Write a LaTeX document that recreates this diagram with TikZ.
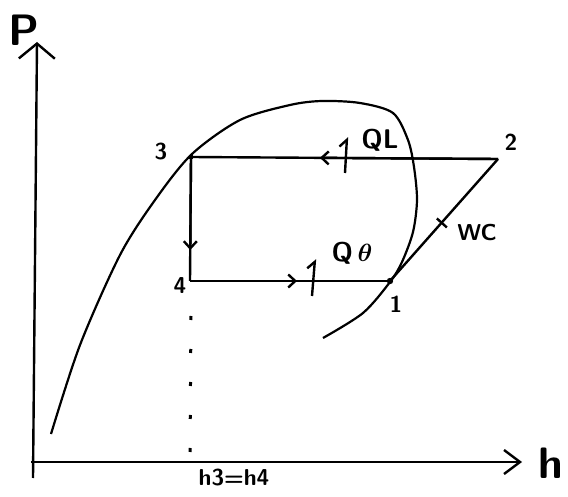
\documentclass[tikz,border=0pt]{standalone}
\usepackage{amsmath}
\usetikzlibrary{arrows.meta,calc}
\tikzset{
  axis/.style={line width=2.4pt},
  cyc/.style={line width=2.4pt},
  dome/.style={line width=2.2pt},
  barb/.style={-{Straight Barb[length=7pt,width=13pt,line width=2.4pt]}},
  heat/.style={line width=2.4pt,-{Straight Barb[left,length=7pt,width=14pt,line width=2.4pt]}},
  lbl/.style={inner sep=0pt,font=\sffamily\bfseries\fontsize{23}{25}\selectfont},
  qlbl/.style={inner sep=0pt,font=\sffamily\bfseries\fontsize{27}{29}\selectfont},
  biglbl/.style={inner sep=0pt,font=\sffamily\bfseries\fontsize{44}{46}\selectfont},
  dotline/.style={line width=3pt,dash pattern=on 4pt off 29pt}
}
\begin{document}
\begin{tikzpicture}[x=1pt,y=-1pt]
        \useasboundingbox (0,0) rectangle (568,497);
        % axes
        \coordinate (pbot) at (33,478);
        \coordinate (ptop) at (37,42);
        \coordinate (hleft) at (31,462);
        \coordinate (hright) at (522,462);
        \draw[axis,-{Straight Barb[length=15pt,width=36pt,line width=2.4pt]}] (pbot) -- (ptop);
        \draw[axis,-{Straight Barb[length=16pt,width=24pt,line width=2.4pt]}] (hleft) -- (hright);
        \node[biglbl] (plbl) at (24,30) {P};
        \node[biglbl] (hlbl) at (551,463) {h};
        % saturation dome
        \draw[dome] plot[smooth] coordinates {(51,434) (80,345) (120,255) (155,200)
          (192,154) (240,120) (290,105) (322,101) (360,103) (393,113) (408,140) (414,167)
          (417,200) (413,232) (402,262) (390,282) (363,313) (323,338)};
        % cycle points
        \coordinate (p3) at (191,157);
        \coordinate (p2) at (498,159);
        \coordinate (p4) at (190,281);
        \coordinate (p1) at (390,281);
        \draw[cyc] (p3) -- (p2);
        \draw[cyc] (p2) -- (p1);
        \draw[cyc] (p4) -- (p1);
        \draw[cyc] (p3) -- (p4);
        \draw[cyc,barb] (p3) -- ($(p3)!0.75!(p4)$);
        \draw[cyc,barb] (p4) -- ($(p4)!0.535!(p1)$);
        \draw[cyc,barb] (p2) -- ($(p2)!0.58!(p3)$);
        \fill (p3) circle (2.5);
        \fill (p1) circle (3.2);
        \draw[cyc] ($(p1)!0.48!(p2)$) ++(-5,-4) -- ++(10,9);
        % heat in / out
        \coordinate (qlb) at (345,173);
        \coordinate (qlt) at (347,137);
        \coordinate (qeb) at (312,296);
        \coordinate (qet) at (315,259);
        \draw[heat] (qlb) -- (qlt);
        \draw[heat] (qeb) -- (qet);
        % throttle line
        \coordinate (dtop) at (191,316);
        \coordinate (foot) at (190,452);
        \draw[dotline] (dtop) -- (foot);
        % labels
        \node[lbl] (l3) at (161,152) {3};
        \node[lbl] (l2) at (511,142) {2};
        \node[lbl] (l4) at (180,286) {4};
        \node[lbl] (l1) at (396,304) {1};
        \node[lbl] (wc) at (477,233) {WC};
        \node[qlbl] (ql) at (380,140) {QL};
        \node[qlbl] (qe) at (352,253) {Q\,$\boldsymbol{\theta}$};
        \node[lbl] (hh) at (234,478) {h3=h4};
      \end{tikzpicture}
\end{document}
